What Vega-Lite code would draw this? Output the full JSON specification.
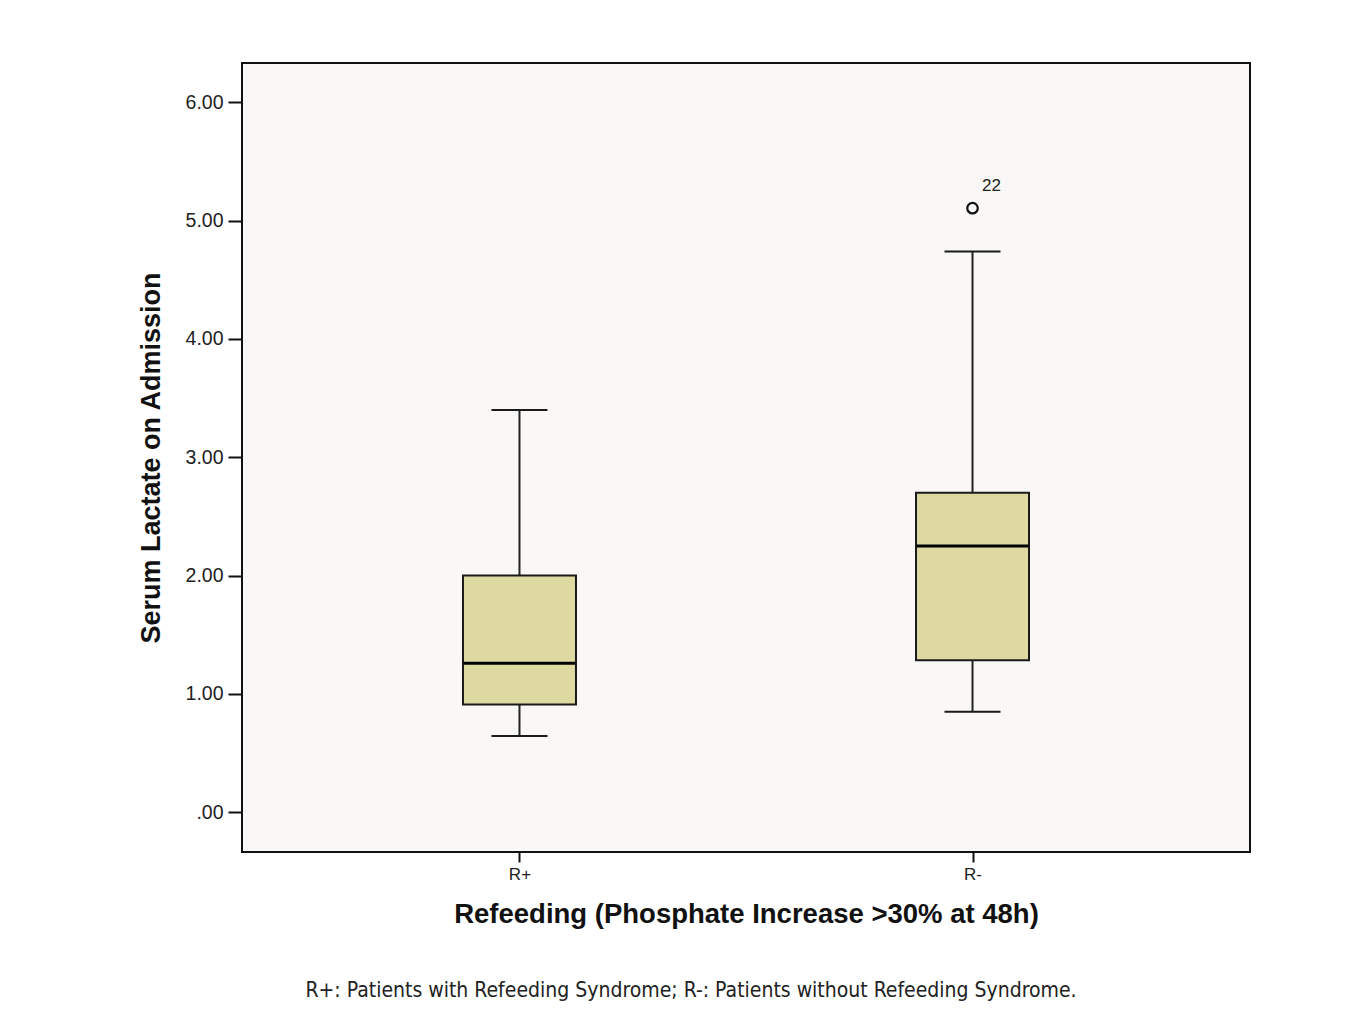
{
  "$schema": "https://vega.github.io/schema/vega-lite/v6.json",
  "autosize": "none",
  "width": 1008,
  "height": 789,
  "padding": {"left": 242, "top": 63, "right": 110, "bottom": 174},
  "background": "#ffffff",
  "config": {
    "view": {"fill": "#f9f8f6", "stroke": "#111111", "strokeWidth": 2},
    "axis": {"domain": false, "grid": false, "tickColor": "#111111", "tickWidth": 2, "labelFont": "Liberation Sans", "labelColor": "#222222", "titleFont": "Liberation Sans", "titleColor": "#111111", "titleFontWeight": "bold"}
  },
  "title": {
    "text": "R+: Patients with Refeeding Syndrome; R-: Patients without Refeeding Syndrome.",
    "orient": "bottom",
    "anchor": "middle",
    "dx": -55,
    "offset": 52,
    "font": "DejaVu Sans Condensed",
    "fontSize": 21,
    "fontWeight": "normal",
    "color": "#222222"
  },
  "datasets": {
    "boxes": [
      {"group": "R+", "low": 0.645, "q1": 0.91, "median": 1.26, "q3": 2.0, "high": 3.4},
      {"group": "R-", "low": 0.85, "q1": 1.285, "median": 2.25, "q3": 2.7, "high": 4.74}
    ],
    "outliers": [
      {"group": "R-", "value": 5.105, "label": "22"}
    ]
  },
  "encoding": {
    "x": {
      "field": "group",
      "type": "nominal",
      "sort": ["R+", "R-"],
      "scale": {"type": "point", "padding": 0.6125},
      "axis": {"title": "Refeeding (Phosphate Increase >30% at 48h)", "titleFontSize": 27.5, "titlePadding": 18, "labelFontSize": 17, "labelAngle": 0, "tickSize": 10, "labelPadding": 4}
    }
  },
  "layer": [
    {
      "data": {"name": "boxes"},
      "mark": {"type": "rule", "color": "#222222", "strokeWidth": 2},
      "encoding": {
        "y": {"field": "low", "type": "quantitative", "scale": {"domain": [-0.336, 6.332], "nice": false, "zero": false},
          "axis": {"title": "Serum Lactate on Admission", "titleFontSize": 27, "titlePadding": 20, "labelFontSize": 19.5, "tickSize": 14, "labelPadding": 5, "values": [0, 1, 2, 3, 4, 5, 6], "labelExpr": "datum.value == 0 ? '.00' : format(datum.value, '.2f')"}},
        "y2": {"field": "high"}
      }
    },
    {
      "data": {"name": "boxes"},
      "mark": {"type": "bar", "size": 113, "fill": "#ddd9a1", "stroke": "#1a1a1a", "strokeWidth": 2},
      "encoding": {
        "y": {"field": "q1", "type": "quantitative"},
        "y2": {"field": "q3"}
      }
    },
    {
      "data": {"name": "boxes"},
      "mark": {"type": "tick", "color": "#000000", "opacity": 1, "size": 112, "thickness": 3},
      "encoding": {"y": {"field": "median", "type": "quantitative"}}
    },
    {
      "data": {"name": "boxes"},
      "mark": {"type": "tick", "color": "#1a1a1a", "opacity": 1, "size": 56, "thickness": 2},
      "encoding": {"y": {"field": "low", "type": "quantitative"}}
    },
    {
      "data": {"name": "boxes"},
      "mark": {"type": "tick", "color": "#1a1a1a", "opacity": 1, "size": 56, "thickness": 2},
      "encoding": {"y": {"field": "high", "type": "quantitative"}}
    },
    {
      "data": {"name": "outliers"},
      "mark": {"type": "point", "shape": "circle", "size": 110, "filled": false, "stroke": "#111111", "strokeWidth": 2.2, "opacity": 1},
      "encoding": {"y": {"field": "value", "type": "quantitative"}}
    },
    {
      "data": {"name": "outliers"},
      "mark": {"type": "text", "dx": 19, "dy": -22, "font": "Liberation Sans", "fontSize": 17, "color": "#222222"},
      "encoding": {"y": {"field": "value", "type": "quantitative"}, "text": {"field": "label"}}
    }
  ]
}
